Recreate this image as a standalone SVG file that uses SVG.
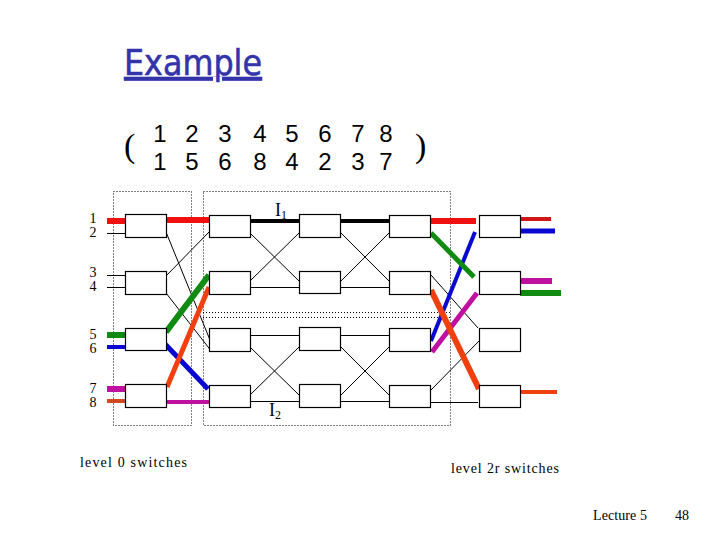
<svg xmlns="http://www.w3.org/2000/svg" width="720" height="540" viewBox="0 0 720 540">
<style>
.sw{fill:#fff;stroke:#000;stroke-width:1.2}
.dot{fill:none;stroke:#000;stroke-width:1;stroke-dasharray:1 2}
.t{stroke:#000;stroke-width:1;fill:none}
.k{stroke:#000;stroke-width:4;fill:none}
.r{stroke:#f01010;stroke-width:6;fill:none}
.g{stroke:#108a10;stroke-width:6;fill:none}
.b{stroke:#0808d0;stroke-width:5;fill:none}
.m{stroke:#c010a0;stroke-width:5;fill:none}
.o{stroke:#f04010;stroke-width:6;fill:none}
text{font-family:"Liberation Serif","Times New Roman",serif;fill:#000}
.n{font-family:"Liberation Sans",Arial,sans-serif;font-size:24px;text-anchor:middle}
.l{font-size:14px;text-anchor:middle}
.c{font-size:14px}
</style>
<rect width="720" height="540" fill="#fff"/>
<text x="124" y="75" textLength="138" lengthAdjust="spacingAndGlyphs" style="font-family:'DejaVu Sans',sans-serif;font-size:36px;fill:#3333aa;stroke:#3333aa;stroke-width:0.6;text-decoration:underline">Example</text>
<g id="matrix">
<text x="124" y="157" style="font-size:34px">(</text>
<text x="415" y="157" style="font-size:34px">)</text>
<text class="n" x="160" y="142">1</text><text class="n" x="192" y="142">2</text><text class="n" x="225" y="142">3</text><text class="n" x="260" y="142">4</text><text class="n" x="292" y="142">5</text><text class="n" x="325" y="142">6</text><text class="n" x="358" y="142">7</text><text class="n" x="386" y="142">8</text>
<text class="n" x="160" y="170">1</text><text class="n" x="192" y="170">5</text><text class="n" x="225" y="170">6</text><text class="n" x="260" y="170">8</text><text class="n" x="292" y="170">4</text><text class="n" x="325" y="170">2</text><text class="n" x="358" y="170">3</text><text class="n" x="386" y="170">7</text>
</g>
<g id="frames">
<rect class="dot" x="113.500" y="191.500" width="78" height="234"/>
<rect class="dot" x="203.500" y="191.500" width="247" height="234"/>
<path class="dot" d="M203 312.500H450M203 317.500H450"/>
</g>
<g id="connectors">
<path class="t" d="M107 233.500H125M107 275.500H125M107 287.500H125"/>
<path class="r" d="M107 221H125"/>
<path class="g" d="M107 335H125"/>
<path class="b" d="M107 347H125" style="stroke-width:4"/>
<path class="m" d="M107 389H125" style="stroke-width:6"/>
<path class="o" d="M107 401H125" style="stroke:#d04a20;stroke-width:4"/>
<path class="t" d="M166 232L210 340M166 276L209 232M166 293L212 352"/>
<path class="r" d="M166 220H209"/>
<path class="g" d="M166 332L209 275"/>
<path class="b" d="M165 344L208 389"/>
<path class="m" d="M165 402H212" style="stroke-width:4"/>
<path class="k" d="M251 221H299M341 221H389"/>
<path class="t" d="M250 233L299 281M250 281L299 233M250 287.500H299M341 233L389 281M341 281L389 233M341 287.500H389"/>
<path class="t" d="M250 335.500H299M250 347L299 395M250 395L299 347M250 401.500H299M341 335.500H389M341 347L389 395M341 395L389 347M341 401.500H389"/>
<path class="t" d="M431 275L478 328M431 390L479 341M431 402.500H478"/>
<path class="r" d="M431 221H476"/>
<path class="b" d="M475 232L431 341" style="stroke-width:4"/>
<path class="g" d="M431 233L474 277" style="stroke-width:5"/>
<path class="m" d="M477 293L432 352"/>
<path class="o" d="M431 290L479 389"/>
<path class="r" d="M520 219H551" style="stroke:#d01818;stroke-width:4"/>
<path class="b" d="M520 231H555"/>
<path class="m" d="M520 281H552" style="stroke-width:6"/>
<path class="g" d="M520 293H561"/>
<path class="o" d="M520 392H557" style="stroke-width:4"/>
<path class="o" d="M167 387L209 287" style="stroke-width:5"/>
</g>
<g id="s11"><rect class="sw" x="125.500" y="214.500" width="41" height="23"/></g>
<g id="s12"><rect class="sw" x="125.500" y="271.500" width="41" height="23"/></g>
<g id="s13"><rect class="sw" x="125.500" y="328.500" width="41" height="22"/></g>
<g id="s14"><rect class="sw" x="125.500" y="384.500" width="41" height="23"/></g>
<g id="s21"><rect class="sw" x="209.500" y="215.500" width="41" height="22"/></g>
<g id="s22"><rect class="sw" x="209.500" y="271.500" width="41" height="23"/></g>
<g id="s23"><rect class="sw" x="209.500" y="328.500" width="41" height="23"/></g>
<g id="s24"><rect class="sw" x="209.500" y="385.500" width="41" height="22"/></g>
<g id="s31"><rect class="sw" x="299.500" y="214.500" width="41" height="23"/></g>
<g id="s32"><rect class="sw" x="299.500" y="271.500" width="41" height="22"/></g>
<g id="s33"><rect class="sw" x="299.500" y="327.500" width="41" height="23"/></g>
<g id="s34"><rect class="sw" x="299.500" y="384.500" width="41" height="23"/></g>
<g id="s41"><rect class="sw" x="389.500" y="215.500" width="41" height="22"/></g>
<g id="s42"><rect class="sw" x="389.500" y="271.500" width="41" height="23"/></g>
<g id="s43"><rect class="sw" x="389.500" y="328.500" width="41" height="23"/></g>
<g id="s44"><rect class="sw" x="389.500" y="385.500" width="41" height="22"/></g>
<g id="s51"><rect class="sw" x="479.500" y="215.500" width="41" height="22"/></g>
<g id="s52"><rect class="sw" x="479.500" y="271.500" width="41" height="23"/></g>
<g id="s53"><rect class="sw" x="479.500" y="328.500" width="41" height="23"/></g>
<g id="s54"><rect class="sw" x="479.500" y="385.500" width="41" height="22"/></g>
<g id="labels">
<text class="l" x="93" y="223">1</text><text class="l" x="93" y="237">2</text>
<text class="l" x="93" y="277">3</text><text class="l" x="93" y="291">4</text>
<text class="l" x="93" y="339">5</text><text class="l" x="93" y="353">6</text>
<text class="l" x="93" y="393">7</text><text class="l" x="93" y="407">8</text>
<text x="275" y="216" style="font-size:18px">I<tspan dy="3" style="font-size:12px">1</tspan></text>
<text x="269" y="416" style="font-size:18px">I<tspan dy="3" style="font-size:12px">2</tspan></text>
<text class="c" x="80" y="467" textLength="107">level 0 switches</text>
<text class="c" x="451" y="473" textLength="108">level 2r switches</text>
<text class="c" x="593" y="520" textLength="54">Lecture 5</text>
<text class="c" x="675" y="520">48</text>
</g>
</svg>
